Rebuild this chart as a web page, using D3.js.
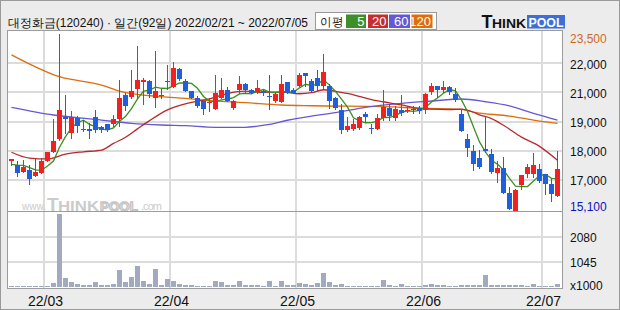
<!DOCTYPE html>
<html lang="ko">
<head>
<meta charset="utf-8">
<title>대정화금 일간</title>
<script src="https://cdn.jsdelivr.net/npm/d3@7/dist/d3.min.js"></script>
<style>
  html, body { margin: 0; padding: 0; background: #ececec; }
  svg { display: block; }
  text { font-family: "Liberation Sans", Arial, sans-serif; }
</style>
</head>
<body>
<svg id="chart" width="620" height="310"></svg>
<script>
// trading days 2022/02/21 ~ 2022/07/05
const dates = ("02/21 02/22 02/23 02/24 02/25 02/28 " +
  "03/02 03/03 03/04 03/07 03/08 03/10 03/11 03/14 03/15 03/16 03/17 03/18 03/21 03/22 03/23 03/24 03/25 03/28 03/29 03/30 03/31 " +
  "04/01 04/04 04/05 04/06 04/07 04/08 04/11 04/12 04/13 04/14 04/15 04/18 04/19 04/20 04/21 04/22 04/25 04/26 04/27 04/28 04/29 " +
  "05/02 05/03 05/04 05/06 05/09 05/10 05/11 05/12 05/13 05/16 05/17 05/18 05/19 05/20 05/23 05/24 05/25 05/26 05/27 05/30 05/31 " +
  "06/02 06/03 06/07 06/08 06/09 06/10 06/13 06/14 06/15 06/16 06/17 06/20 06/21 06/22 06/23 06/24 06/27 06/28 06/29 06/30 " +
  "07/01 07/04 07/05").split(" ");

const opens = [17450, 17250, 16950, 17050, 16750, 16900, 17450, 17900, 18500, 19550,
  18800, 19500, 19000, 19000, 19550, 19100, 19200, 19200, 19450, 20600,
  20500, 20900, 21200, 21250, 20450, 20600, 21200, 21000, 21850, 21250,
  20800, 20450, 20300, 20200, 19950, 20450, 20850, 20000, 20850, 21100,
  20850, 20750, 20800, 20550, 20300, 20250, 21200, 20850, 21050, 21650,
  21250, 21400, 21050, 21050, 20450, 19900, 18950, 19000, 19050, 19700,
  19050, 19000, 19500, 20000, 19500, 19900, 19850, 19950, 20000, 19900,
  20750, 21050, 20850, 21000, 20650, 19700, 18500, 17950, 17600, 18050,
  17800, 16900, 17150, 15950, 15100, 16300, 16850, 16850, 17100, 16850,
  16350, 15800];
const highs = [17550, 17450, 17500, 17250, 17550, 17600, 17900, 19450, 23500, 20600,
  19850, 19600, 19400, 19250, 19900, 19150, 19200, 19650, 21300, 20700,
  21800, 22950, 21400, 21300, 22700, 20900, 22050, 22150, 21900, 21350,
  20800, 20550, 20300, 20450, 21550, 21400, 21000, 20350, 21500, 21150,
  20900, 21300, 20850, 21550, 20750, 21550, 21200, 20950, 21650, 21650,
  21350, 21800, 22550, 21100, 20500, 20150, 19550, 19450, 19600, 19800,
  19200, 19700, 20850, 20150, 20100, 20600, 20100, 20100, 20100, 20700,
  21150, 21050, 21250, 21050, 20950, 19900, 18750, 18200, 18000, 19550,
  18050, 17450, 17650, 16250, 16150, 16800, 17300, 17850, 17300, 16850,
  16600, 17950];
const lows = [17250, 16750, 16950, 16350, 16750, 16900, 17450, 17900, 18450, 18800,
  18550, 18850, 18900, 18550, 18850, 18850, 18900, 19150, 19150, 19900,
  20450, 20450, 20150, 20500, 20050, 20450, 20900, 21000, 21300, 20800,
  20450, 20050, 19700, 19850, 19950, 20450, 20300, 19950, 20700, 20700,
  20700, 20700, 20600, 19950, 20250, 20250, 20700, 20700, 21050, 21050,
  20750, 20850, 20950, 20000, 19950, 18800, 18900, 18950, 19000, 19300,
  18800, 19000, 19400, 19400, 19400, 19650, 19800, 19750, 19750, 19750,
  20650, 20500, 20750, 20650, 20300, 18900, 17700, 17050, 17150, 17900,
  16900, 16450, 15950, 15200, 15100, 16150, 16700, 16700, 16450, 15900,
  15550, 15800];
const closes = [17550, 16900, 17200, 16600, 16950, 17450, 17900, 18400, 19900, 19450,
  19550, 19150, 18950, 18900, 18950, 18950, 18950, 19450, 20450, 20100,
  20800, 21300, 21300, 20650, 20800, 20550, 21250, 21900, 21350, 20800,
  20450, 20100, 19950, 20250, 20700, 20850, 20300, 20300, 21100, 20850,
  20700, 20950, 20700, 20500, 20650, 21100, 20700, 20700, 21550, 21500,
  20800, 21050, 21700, 20300, 20000, 18950, 19150, 19200, 19550, 19550,
  19000, 19500, 20050, 19600, 19950, 19750, 19900, 19900, 19850, 20650,
  21050, 20850, 21000, 20750, 20350, 18900, 18100, 17300, 17200, 17950,
  16950, 17150, 15950, 15200, 16100, 16800, 17200, 17250, 16500, 16350,
  15900, 17100];
// x1000 shares
const volumes = [70, 60, 60, 60, 60, 60, 70, 180, 3050, 390,
  230, 140, 100, 100, 220, 100, 100, 140, 720, 230,
  430, 890, 270, 140, 770, 100, 350, 270, 140, 100,
  100, 60, 60, 60, 270, 230, 100, 100, 270, 100,
  100, 100, 60, 270, 60, 270, 100, 100, 180, 140,
  100, 170, 600, 230, 100, 140, 60, 60, 60, 60,
  60, 60, 310, 100, 60, 140, 60, 60, 60, 100,
  140, 100, 100, 60, 60, 100, 100, 100, 100, 520,
  100, 100, 100, 100, 100, 100, 60, 140, 60, 60,
  60, 140];

// moving averages
const ma5 = [17300, 17270, 17250, 17150, 17040, 17020, 17220, 17460, 18120, 18620,
  19040, 19290, 19400, 19200, 19100, 18980, 18940, 19040, 19350, 19580,
  19950, 20420, 20790, 20830, 20970, 20920, 20910, 21030, 21170, 21170,
  21150, 20920, 20530, 20310, 20290, 20370, 20410, 20480, 20650, 20680,
  20650, 20780, 20860, 20740, 20700, 20780, 20730, 20730, 20940, 21110,
  21050, 21120, 21320, 21070, 20770, 20400, 20020, 19520, 19370, 19280,
  19290, 19360, 19530, 19540, 19620, 19770, 19850, 19820, 19870, 20010,
  20270, 20460, 20680, 20860, 20800, 20370, 19820, 19080, 18370, 17890,
  17500, 17310, 17040, 16640, 16270, 16240, 16250, 16510, 16770, 16820,
  16640, 16620];
const ma20 = [[0, 17880], [3, 17600], [6, 17560], [9, 17790], [12, 17900], [15, 17980], [17, 18300],
  [19, 18590], [21, 18990], [23, 19380], [26, 19890], [30, 20250], [33, 20420], [36, 20670],
  [39, 20780], [42, 20730], [45, 20740], [48, 20660], [50, 20710], [52, 20850], [55, 20720],
  [57, 20610], [60, 20380], [62, 20280], [65, 20130], [68, 19960], [70, 19930], [73, 19910],
  [75, 19930], [77, 19780], [78, 19660], [80, 19480], [82, 19160], [85, 18600], [88, 18160], [91, 17500]];
const ma60 = [[0, 20015], [7, 19650], [15, 19410], [20, 19255], [25, 19175], [29, 19140], [34, 19065],
  [39, 19065], [41, 19120], [43, 19200], [46, 19400], [50, 19600], [54, 19760], [59, 20015],
  [65, 20205], [70, 20315], [75, 20410], [79, 20280], [83, 20080], [87, 19730], [91, 19410]];
const ma120 = [[0, 22510], [8, 21470], [15, 21075], [18, 20790], [25, 20520], [29, 20440], [33, 20330],
  [39, 20235], [45, 20125], [50, 20090], [62, 20050], [68, 19970], [75, 19920], [77, 19790],
  [83, 19600], [87, 19410], [91, 19255]];

const maNames = ["5", "20", "60", "120"];
const maColors = ["#3e8e22", "#b8282c", "#6658d4", "#dc6e0c"];
const maBox = ["#3e8e2a", "#c42e2e", "#6658d4", "#dc6e0c"];

const priceGrid = [22120, 20740, 19320, 17940, 16560];
const priceLabels = ["22,000", "21,000", "19,000", "18,000", "17,000"];
const volGrid = [2080, 1045];
const volLabels = ["2080", "1045"];
const volMax = 3120;
const months = ["03", "04", "05", "06", "07"];
const monthLabels = ["22/03", "22/04", "22/05", "22/06", "22/07"];

const UP = "#f22020", DOWN = "#1f5fdc";

const svg = d3.select("#chart");
const L = 8, R = 562, T = 31, PB = 211, VB = 288;

const x = d3.scaleBand().domain(d3.range(dates.length)).range([L, 560]).padding(0);
const y = d3.scaleLinear().domain([d3.min(lows), d3.max(highs)]).range([210.7, 34]);
const yv = d3.scaleLinear().domain([0, volMax]).range([287.4, 212.4]);
const cx = (i) => x(i) + 3.5;

svg.append("rect").attr("fill", "#ececec")
  .attr("stroke", "#9a9a9a").attr("x", 0.5).attr("y", 0.5).attr("width", 619).attr("height", 309);

// panels
svg.append("rect").attr("x", L).attr("y", T).attr("width", R - L).attr("height", VB - T).attr("fill", "#fff");

const grid = svg.append("g").attr("stroke", "#dcdcdc").attr("stroke-width", 2);
grid.selectAll(".hp").data(priceGrid).join("line")
  .attr("x1", L).attr("x2", R).attr("y1", (d) => Math.round(y(d))).attr("y2", (d) => Math.round(y(d)));
grid.selectAll(".hv").data(volGrid).join("line")
  .attr("x1", L).attr("x2", R).attr("y1", (d) => Math.round(yv(d))).attr("y2", (d) => Math.round(yv(d)));
const monthIdx = months.map((m) => dates.findIndex((d) => d.startsWith(m + "/")));
grid.selectAll(".vm").data(monthIdx).join("line")
  .attr("x1", (i) => x(i)).attr("x2", (i) => x(i)).attr("y1", T).attr("y2", VB);

// watermark
const wm = svg.append("g").attr("fill", "#cbcbcb").attr("font-family", "DejaVu Sans, sans-serif");
wm.append("text").attr("x", 22).attr("y", 210).attr("font-size", 10).attr("textLength", 24).text("www.");
wm.append("text").attr("x", 47).attr("y", 210.5).attr("font-size", 19).attr("font-weight", "bold").text("T");
wm.append("text").attr("x", 58).attr("y", 210.5).attr("font-size", 14).attr("font-weight", "bold")
  .attr("textLength", 41).attr("lengthAdjust", "spacingAndGlyphs").text("HINK");
wm.append("text").attr("x", 100).attr("y", 210.5).attr("font-size", 13).attr("font-weight", "bold")
  .attr("fill", "#fff").attr("stroke", "#c4c4c4").attr("stroke-width", 1.3)
  .attr("textLength", 38).attr("lengthAdjust", "spacingAndGlyphs").text("POOL");
wm.append("text").attr("x", 141).attr("y", 210).attr("font-size", 11).attr("textLength", 21).text(".com");

// volume bars
svg.append("g").attr("fill", "#a2aabf").attr("shape-rendering", "crispEdges")
  .selectAll("rect").data(volumes).join("rect")
  .attr("x", (d, i) => x(i) + 1).attr("width", 5)
  .attr("y", (d) => Math.round(yv(d))).attr("height", (d) => Math.max(1, Math.round(yv(0)) - Math.round(yv(d))));

// moving averages
const line = d3.line().x((d) => cx(d[0])).y((d) => y(d[1]));
const maData = [ma5.map((v, i) => [i, v]), ma20, ma60, ma120];
svg.append("g").attr("fill", "none").selectAll("path").data(maData.slice().reverse()).join("path")
  .attr("stroke", (d, k) => maColors[3 - k]).attr("stroke-width", 1.3)
  .attr("d", (d, k) => (k === 3 ? line.curve(d3.curveLinear)(d) : line.curve(d3.curveMonotoneX)(d)));

// candles
const candles = svg.append("g").attr("shape-rendering", "crispEdges")
  .selectAll("g").data(dates).join("g")
  .attr("fill", (d, i) => (closes[i] >= opens[i] ? UP : DOWN))
  .attr("stroke", (d, i) => (closes[i] >= opens[i] ? UP : DOWN));
candles.append("line")
  .attr("x1", (d, i) => cx(i)).attr("x2", (d, i) => cx(i))
  .attr("y1", (d, i) => Math.round(y(highs[i]))).attr("y2", (d, i) => Math.round(y(lows[i])) + 1);
candles.append("rect").attr("stroke", "none")
  .attr("x", (d, i) => x(i) + 1).attr("width", 5)
  .attr("y", (d, i) => Math.round(y(Math.max(opens[i], closes[i]))))
  .attr("height", (d, i) => Math.max(1, Math.round(y(Math.min(opens[i], closes[i]))) - Math.round(y(Math.max(opens[i], closes[i])))));

// panel borders
const frame = svg.append("g").attr("fill", "none").attr("stroke", "#9c9c9c").attr("shape-rendering", "crispEdges");
frame.append("rect").attr("x", L - 0.5).attr("y", T - 0.5).attr("width", R - L + 1).attr("height", PB - T + 1);
frame.append("rect").attr("x", L - 0.5).attr("y", PB + 0.5).attr("width", R - L + 1).attr("height", VB - PB);

// right axis labels
const ax = svg.append("g").attr("font-size", 12).attr("fill", "#111");
ax.selectAll(".pl").data(priceGrid).join("text")
  .attr("x", 570).attr("y", (d) => y(d) + 5.5).text((d, i) => priceLabels[i]);
ax.append("text").attr("x", 570).attr("y", y(d3.max(highs)) + 8.5).attr("fill", "#d2691e").text(d3.format(",")(d3.max(highs)));
ax.append("text").attr("x", 570).attr("y", y(d3.min(lows)) + 0.5).attr("fill", "#1010c8").text(d3.format(",")(d3.min(lows)));
ax.selectAll(".vl").data(volGrid).join("text")
  .attr("x", 570).attr("y", (d) => yv(d) + 5).text((d, i) => volLabels[i]);
ax.append("text").attr("x", 570).attr("y", yv(0) + 3).text("x1000");

// month labels
svg.append("g").attr("font-size", 14).attr("fill", "#111").attr("text-anchor", "middle")
  .selectAll("text").data(monthIdx).join("text")
  .attr("x", (i) => x(i) + 1.5).attr("y", 305.5).text((d, k) => monthLabels[k]);

// header
svg.append("text").attr("x", 8).attr("y", 27).attr("font-family", "Noto Sans CJK KR, sans-serif")
  .attr("font-size", 12).attr("fill", "#111").attr("textLength", 300).attr("lengthAdjust", "spacingAndGlyphs")
  .text("대정화금(120240) · 일간(92일) 2022/02/21 ~ 2022/07/05");

const lg = svg.append("g");
lg.append("rect").attr("x", 315.5).attr("y", 12.5).attr("width", 121).attr("height", 17).attr("fill", "#fff").attr("stroke", "#9a9a9a");
lg.append("text").attr("x", 320).attr("y", 26).attr("font-family", "Noto Sans CJK KR, sans-serif").attr("font-size", 12)
  .attr("fill", "#111").attr("textLength", 23).attr("lengthAdjust", "spacingAndGlyphs").text("이평");
const boxX = [346, 368, 389, 411.5], boxW = [20, 20, 21, 21];
const items = lg.selectAll("g").data(maNames).join("g");
items.append("rect").attr("x", (d, k) => boxX[k]).attr("y", 14.5).attr("width", (d, k) => boxW[k]).attr("height", 13.5)
  .attr("fill", (d, k) => maBox[k]);
items.append("text").attr("x", (d, k) => boxX[k] + boxW[k] - 1.5).attr("y", 26).attr("text-anchor", "end")
  .attr("font-size", 13).attr("fill", "#fff").text((d) => d);

// logo
const logo = svg.append("g").attr("font-family", "DejaVu Sans, sans-serif").attr("font-weight", "bold");
logo.append("text").attr("x", 481.5).attr("y", 28.3).attr("font-size", 18).attr("fill", "#111").text("T");
logo.append("text").attr("x", 492).attr("y", 28.3).attr("font-size", 12.5).attr("fill", "#111")
  .attr("textLength", 34).attr("lengthAdjust", "spacingAndGlyphs").text("HINK");
logo.append("rect").attr("x", 527).attr("y", 15).attr("width", 38).attr("height", 13.5).attr("fill", "#3d6fd6");
logo.append("text").attr("x", 528.5).attr("y", 27.3).attr("font-size", 13).attr("fill", "#fff")
  .attr("textLength", 35).attr("lengthAdjust", "spacingAndGlyphs").text("POOL");
</script>
</body>
</html>
